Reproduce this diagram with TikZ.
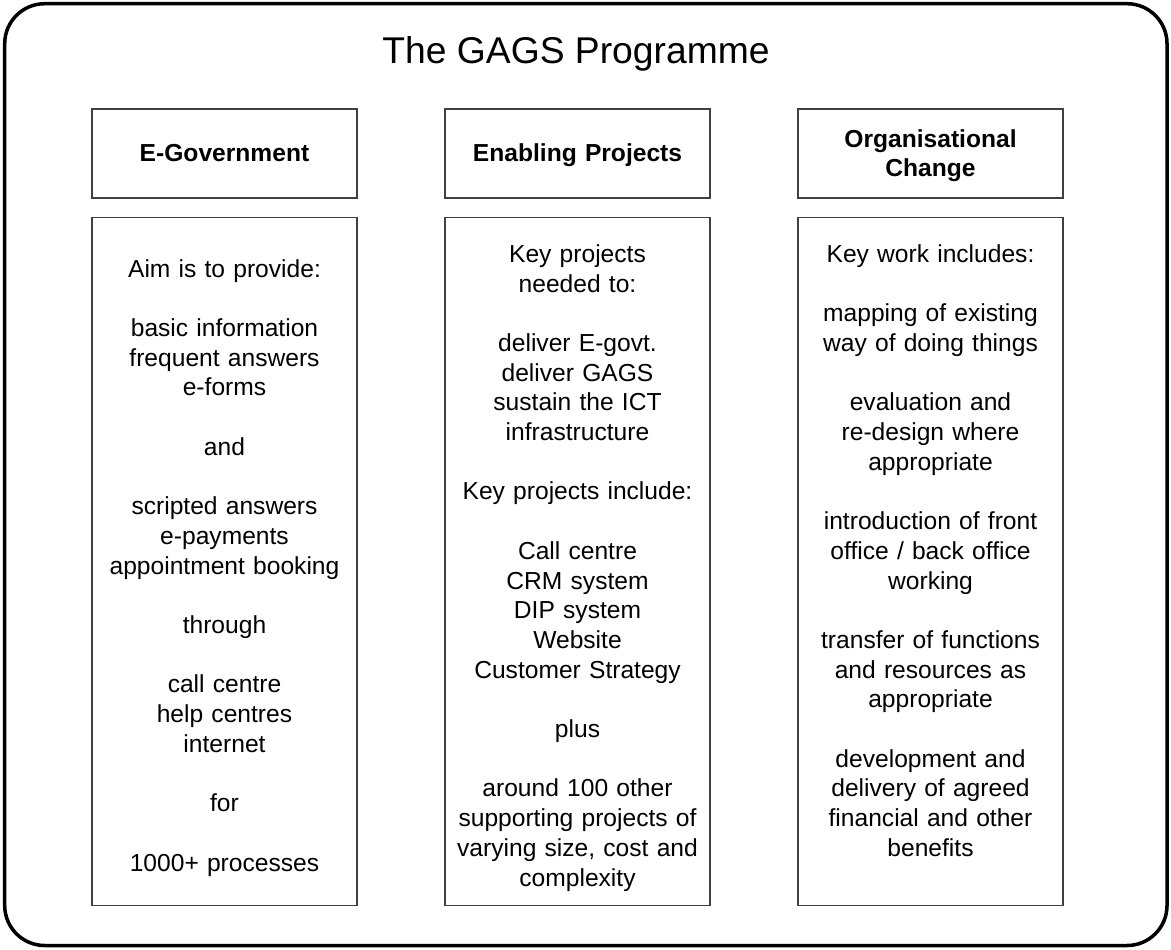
\documentclass[tikz,border=0pt]{standalone}
\usepackage{fontspec}
\setmainfont{Liberation Sans}
\usetikzlibrary{positioning}
\definecolor{boxline}{HTML}{404040}
\newcommand\gagstitle{\fontsize{21.2}{25}\selectfont}
\newcommand\gagstext{\fontsize{14}{16.9}\selectfont}
\newcommand\gapline{\\[\baselineskip]}

\begin{document}
\begin{tikzpicture}[
    headbox/.style={draw=boxline, line width=0.6pt, inner sep=0pt,
      minimum width=5.3cm, minimum height=1.78cm, text width=5.3cm,
      align=center, font=\gagstext\bfseries,
      execute at begin node=\rule{0pt}{14.7pt},
      execute at end node=\strut},
    bodybox/.style={draw=boxline, line width=0.6pt, inner sep=0pt,
      minimum width=5.3cm, minimum height=13.76cm, text width=5.3cm,
      align=center, font=\gagstext,
      execute at begin node=\rule{0pt}{20pt},
      execute at end node=\strut}]
  \useasboundingbox (0,0) rectangle (23.42,18.98);
  % outer frame and title
  \draw[line width=2pt, rounded corners=0.8cm] (0.094,0.07) rectangle (23.34,18.906);
  \node[font=\gagstitle, anchor=base] (title) at (11.52,17.7) {The GAGS Programme};
  % column headers
  \foreach \id/\x/\head in {egov/4.49/E-Government, enab/11.55/Enabling Projects,
      org/18.61/{Organisational\\Change}} {
    \node[headbox] (\id) at (\x,15.91) {\head};
  }
  % column contents
  \node[bodybox, below=0.36cm of egov] (egovbody) {%
    Aim is to provide:\gapline
    basic information\\frequent answers\\e-forms\gapline
    and\gapline
    scripted answers\\e-payments\\appointment booking\gapline
    through\gapline
    call centre\\help centres\\internet\gapline
    for\gapline
    1000+ processes};
  \node[bodybox, below=0.36cm of enab] (enabbody) {%
    Key projects\\needed to:\gapline
    deliver E-govt.\\deliver GAGS\\sustain the ICT\\infrastructure\gapline
    Key projects include:\gapline
    Call centre\\CRM system\\DIP system\\Website\\Customer Strategy\gapline
    plus\gapline
    around 100 other\\supporting projects of\\varying size, cost and\\complexity};
  \node[bodybox, below=0.36cm of org] (orgbody) {%
    Key work includes:\gapline
    mapping of existing\\way of doing things\gapline
    evaluation and\\re-design where\\appropriate\gapline
    introduction of front\\office / back office\\working\gapline
    transfer of functions\\and resources as\\appropriate\gapline
    development and\\delivery of agreed\\financial and other\\benefits\\};
\end{tikzpicture}
\end{document}
